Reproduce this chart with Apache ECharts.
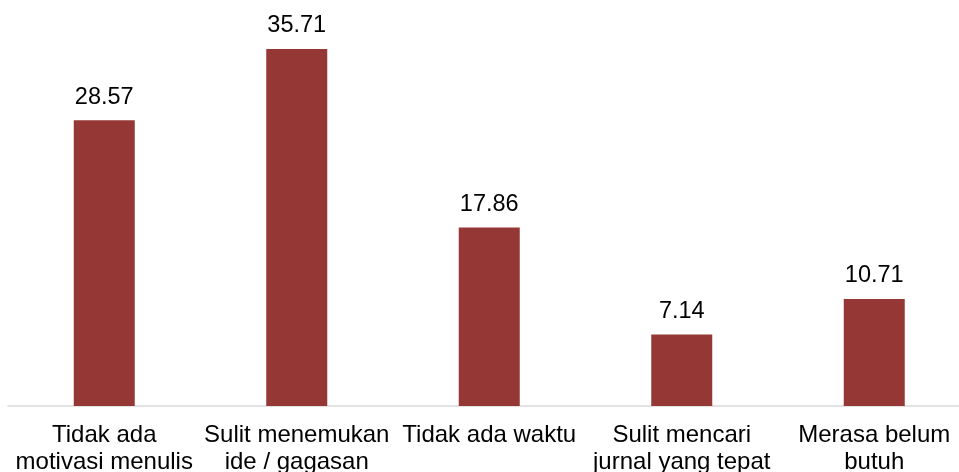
<!DOCTYPE html>
<html>
<head>
<meta charset="utf-8">
<script src="https://cdn.jsdelivr.net/npm/echarts@6/dist/echarts.min.js"></script>
<style>
  html, body { margin: 0; padding: 0; background: #fff; overflow: hidden; }
  #chart { width: 980px; height: 472px; }
</style>
</head>
<body>
<div id="chart"></div>
<script>
// data
var categories = [
  'Tidak ada\nmotivasi menulis',
  'Sulit menemukan\nide / gagasan',
  'Tidak ada waktu',
  'Sulit mencari\njurnal yang tepat',
  'Merasa belum\nbutuh'
];
var values = [28.57, 35.71, 17.86, 7.14, 10.71];

// chart div is a bit wider than the window so the last category runs off the edge
var chart = echarts.init(document.getElementById('chart'));
chart.setOption({
  animation: false,
  grid: { left: 8, right: 9.5, top: 6, bottom: 66, outerBoundsMode: 'none' },
  xAxis: {
    type: 'category',
    data: categories,
    axisLine: { lineStyle: { color: '#d9d9d9', width: 1.5 } },
    axisTick: { show: false },
    axisLabel: {
      interval: 0,
      margin: 16,
      color: '#000',
      fontFamily: 'Liberation Sans, Arial, sans-serif',
      fontSize: 24,
      lineHeight: 27
    }
  },
  yAxis: {
    type: 'value',
    min: 0,
    max: 40,
    show: false,
    splitLine: { show: false }
  },
  series: [{
    type: 'bar',
    data: values,
    barWidth: 61,
    itemStyle: { color: '#953735' },
    label: {
      show: true,
      position: 'top',
      distance: 11,
      color: '#000',
      fontFamily: 'Liberation Sans, Arial, sans-serif',
      fontSize: 23.5,
      formatter: function (p) { return p.value.toFixed(2); }
    }
  }]
});
</script>
</body>
</html>
